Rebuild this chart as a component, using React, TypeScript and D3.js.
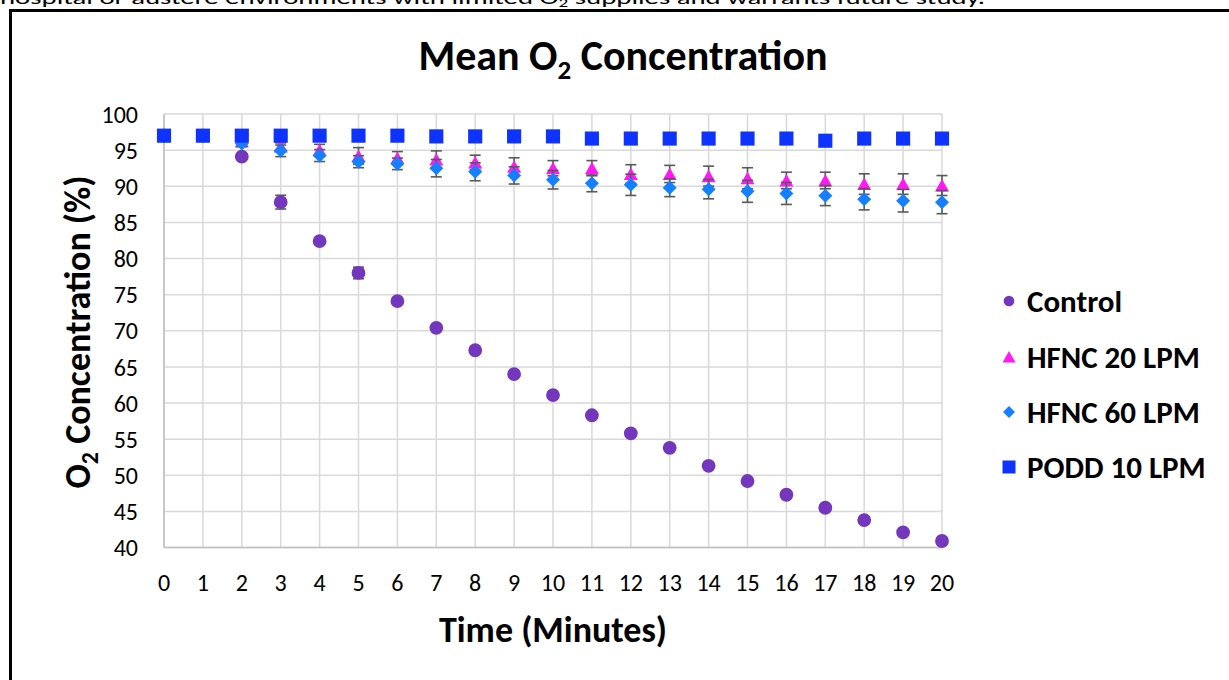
import React, { useEffect, useRef } from "react";
import * as d3 from "d3";

// values
const minutes = [0, 1, 2, 3, 4, 5, 6, 7, 8, 9, 10, 11, 12, 13, 14, 15, 16, 17, 18, 19, 20];
const yTicks = [40, 45, 50, 55, 60, 65, 70, 75, 80, 85, 90, 95, 100];

const control = [97.0, 97.0, 94.1, 87.8, 82.4, 78.0, 74.1, 70.4, 67.3, 64.0, 61.1, 58.3, 55.8, 53.8, 51.3, 49.2, 47.3, 45.5, 43.8, 42.1, 40.9];
const controlErr = [0.2, 0.2, 0.3, 0.95, 0.3, 0.8, 0.3, 0.3, 0.3, 0.3, 0.3, 0.3, 0.3, 0.3, 0.3, 0.3, 0.3, 0.3, 0.3, 0.3, 0.3];

const hfnc20 = [97.0, 97.0, 96.2, 95.5, 95.0, 94.2, 93.9, 93.7, 93.3, 92.7, 92.5, 92.5, 91.7, 91.7, 91.4, 91.1, 90.8, 90.8, 90.3, 90.3, 90.1];
const hfnc20Err = [0.1, 0.1, 0.5, 0.5, 0.8, 1.15, 0.9, 1.2, 1.0, 1.24, 1.05, 1.05, 1.28, 1.19, 1.38, 1.46, 1.15, 1.15, 1.42, 1.42, 1.38];

const hfnc60 = [97.0, 97.0, 95.9, 94.9, 94.25, 93.4, 93.1, 92.5, 92.0, 91.5, 90.9, 90.4, 90.2, 89.8, 89.6, 89.3, 89.0, 88.7, 88.2, 88.0, 87.8];
const hfnc60Err = [0.1, 0.1, 0.4, 0.8, 0.83, 0.83, 0.8, 1.2, 1.24, 1.19, 1.28, 1.16, 1.47, 1.24, 1.34, 1.52, 1.52, 1.38, 1.47, 1.56, 1.6];

const podd = [97.0, 97.0, 97.0, 97.0, 97.0, 97.0, 97.0, 96.9, 96.9, 96.9, 96.9, 96.6, 96.6, 96.6, 96.6, 96.6, 96.6, 96.3, 96.6, 96.6, 96.6];

const seriesNames = ["Control", "HFNC 20 LPM", "HFNC 60 LPM", "PODD 10 LPM"];
const seriesColors = ["#7336BD", "#FF19F5", "#1580FF", "#0F33FF"];

const FONT = "Carlito, Calibri, Lato, 'Open Sans', sans-serif";

export default function App() {
  const svgRef = useRef<SVGSVGElement>(null);

  useEffect(() => {
    const svg = d3.select(svgRef.current);
    svg.selectAll("*").remove();

    const x = d3.scaleLinear().domain([0, 20]).range([164, 942]);
    const y = d3.scaleLinear().domain([40, 100]).range([547.5, 114]);

    svg.append("rect").attr("width", 1229).attr("height", 680).attr("fill", "#fff");

    // cut-off line of text from the page above the figure
    const top = svg
      .append("text")
      .attr("x", 0)
      .attr("y", 4)
      .attr("font-family", FONT)
      .attr("font-size", 18)
      .attr("textLength", 985)
      .attr("lengthAdjust", "spacingAndGlyphs");
    top.append("tspan").text("hospital or austere environments with limited O");
    top.append("tspan").attr("font-size", 12).attr("dy", 3).text("2");
    top.append("tspan").attr("dy", -3).text(" supplies and warrants future study.");

    // figure frame
    svg
      .append("rect")
      .attr("x", 10.5)
      .attr("y", 10.5)
      .attr("width", 1400)
      .attr("height", 900)
      .attr("fill", "none")
      .attr("stroke", "#000")
      .attr("stroke-width", 3);

    // grid
    const grid = svg.append("g").attr("stroke", "#D9D9D9").attr("stroke-width", 1.5);
    yTicks.forEach((t) => {
      grid.append("line").attr("x1", x(0)).attr("x2", x(20)).attr("y1", y(t)).attr("y2", y(t));
    });
    minutes.forEach((m) => {
      grid.append("line").attr("x1", x(m)).attr("x2", x(m)).attr("y1", y(40)).attr("y2", y(100));
    });
    svg
      .append("line")
      .attr("x1", x(0))
      .attr("x2", x(20))
      .attr("y1", y(40))
      .attr("y2", y(40))
      .attr("stroke", "#BFBFBF")
      .attr("stroke-width", 1.5);
    svg
      .append("line")
      .attr("x1", x(0))
      .attr("x2", x(0))
      .attr("y1", y(40))
      .attr("y2", y(100))
      .attr("stroke", "#BFBFBF")
      .attr("stroke-width", 1.5);

    // tick labels
    svg
      .append("g")
      .selectAll("text")
      .data(yTicks)
      .enter()
      .append("text")
      .attr("x", 138)
      .attr("y", (d) => y(d))
      .attr("dy", "0.36em")
      .attr("text-anchor", "end")
      .attr("font-family", FONT)
      .attr("font-size", 24)
      .attr("fill", "#000")
      .text((d) => d);

    svg
      .append("g")
      .selectAll("text")
      .data(minutes)
      .enter()
      .append("text")
      .attr("x", (d) => x(d))
      .attr("y", 591)
      .attr("text-anchor", "middle")
      .attr("font-family", FONT)
      .attr("font-size", 24)
      .attr("fill", "#000")
      .text((d) => d);

    // titles
    const title = svg
      .append("text")
      .attr("x", 623)
      .attr("y", 70)
      .attr("text-anchor", "middle")
      .attr("font-family", FONT)
      .attr("font-weight", "bold")
      .attr("font-size", 42)
      .attr("fill", "#000");
    title.append("tspan").text("Mean O");
    title.append("tspan").attr("font-size", 27).attr("dy", 9).text("2");
    title.append("tspan").attr("dy", -9).text(" Concentration");

    svg
      .append("text")
      .attr("x", 553)
      .attr("y", 642)
      .attr("text-anchor", "middle")
      .attr("font-family", FONT)
      .attr("font-weight", "bold")
      .attr("font-size", 36)
      .attr("fill", "#000")
      .text("Time (Minutes)");

    const yTitle = svg
      .append("text")
      .attr("transform", "translate(90,332) rotate(-90)")
      .attr("text-anchor", "middle")
      .attr("font-family", FONT)
      .attr("font-weight", "bold")
      .attr("font-size", 36)
      .attr("fill", "#000");
    yTitle.append("tspan").text("O");
    yTitle.append("tspan").attr("font-size", 24).attr("dy", 8).text("2");
    yTitle.append("tspan").attr("dy", -8).text(" Concentration (%)");

    // markers
    const circle = d3.symbol(d3.symbolCircle, 150)();
    const square = d3.symbol(d3.symbolSquare, 200)();
    const triangle = "M0,-6.5L7,6L-7,6Z";
    const diamond = "M0,-7L7,0L0,7L-7,0Z";

    const drawErr = (vals: number[], errs: number[]) => {
      const g = svg.append("g").attr("stroke", "#595959").attr("stroke-width", 1.6);
      vals.forEach((v, i) => {
        const cx = x(minutes[i]);
        const y1 = y(v + errs[i]);
        const y2 = y(v - errs[i]);
        g.append("line").attr("x1", cx).attr("x2", cx).attr("y1", y1).attr("y2", y2);
        g.append("line").attr("x1", cx - 5.5).attr("x2", cx + 5.5).attr("y1", y1).attr("y2", y1);
        g.append("line").attr("x1", cx - 5.5).attr("x2", cx + 5.5).attr("y1", y2).attr("y2", y2);
      });
    };
    const drawPts = (vals: number[], shape: string, color: string) => {
      svg
        .append("g")
        .selectAll("path")
        .data(vals)
        .enter()
        .append("path")
        .attr("d", shape)
        .attr("transform", (d, i) => `translate(${x(minutes[i])},${y(d)})`)
        .attr("fill", color);
    };

    drawErr(control, controlErr);
    drawPts(control, circle, seriesColors[0]);
    drawErr(hfnc20, hfnc20Err);
    drawPts(hfnc20, triangle, seriesColors[1]);
    drawErr(hfnc60, hfnc60Err);
    drawPts(hfnc60, diamond, seriesColors[2]);
    drawPts(podd, square, seriesColors[3]);

    // legend
    const legendShapes = [
      d3.symbol(d3.symbolCircle, 90)(),
      "M0,-6L6.5,5.5L-6.5,5.5Z",
      "M0,-6L6,0L0,6L-6,0Z",
      d3.symbol(d3.symbolSquare, 169)(),
    ];
    const legendY = [301, 357, 412, 467];
    const legend = svg
      .selectAll(".legend")
      .data(seriesNames)
      .enter()
      .append("g")
      .attr("class", "legend")
      .attr("transform", (d, i) => `translate(1009,${legendY[i]})`);
    legend
      .append("path")
      .attr("d", (d, i) => legendShapes[i])
      .attr("fill", (d, i) => seriesColors[i]);
    legend
      .append("text")
      .attr("x", 18)
      .attr("dy", "0.36em")
      .attr("font-family", FONT)
      .attr("font-weight", "bold")
      .attr("font-size", 31)
      .attr("fill", "#000")
      .text((d) => d);
  }, []);

  return (
    <svg
      ref={svgRef}
      width={1229}
      height={680}
      style={{ position: "absolute", left: 0, top: 0, display: "block" }}
    />
  );
}
